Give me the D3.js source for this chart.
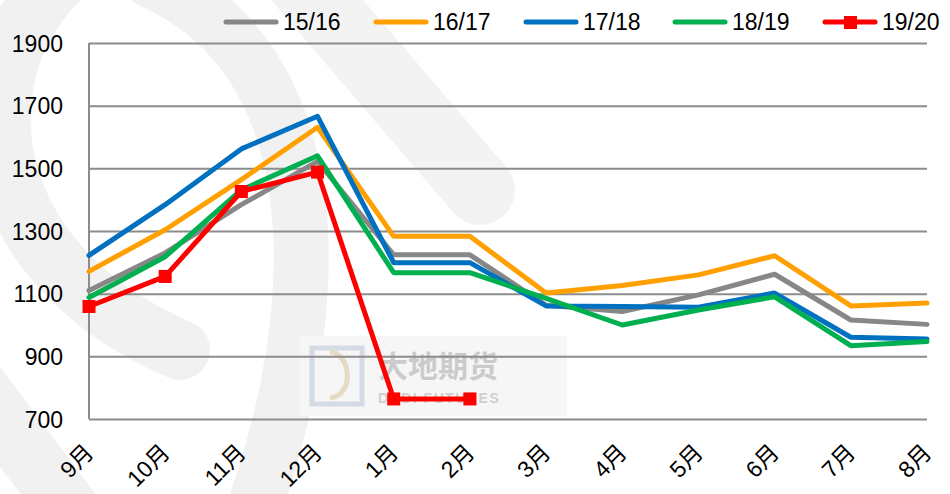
<!DOCTYPE html>
<html>
<head>
<meta charset="utf-8">
<script src="https://cdn.jsdelivr.net/npm/d3@7"></script>
<style>
  body { margin: 0; background: #fff; }
  svg text { font-family: "Liberation Sans", "Noto Sans CJK SC", sans-serif; }
</style>
</head>
<body>
<div id="canvas"></div>
<script>
const months = ['9月', '10月', '11月', '12月', '1月', '2月', '3月', '4月', '5月', '6月', '7月', '8月'];
const seasons = ['15/16', '16/17', '17/18', '18/19', '19/20'];
const s1516 = [1110, 1230, 1384, 1522, 1224, 1224, 1063, 1043, 1096, 1162, 1016, 1002];
const s1617 = [1171, 1304, 1464, 1631, 1283, 1283, 1102, 1126, 1160, 1221, 1061, 1070];
const s1718 = [1222, 1384, 1562, 1666, 1199, 1199, 1061, 1059, 1057, 1102, 961, 955];
const s1819 = [1088, 1218, 1431, 1540, 1167, 1167, 1085, 1000, 1048, 1090, 934, 947];
const s1920 = [1059, 1155, 1426, 1488, 764, 764, null, null, null, null, null, null];
const yTicks = [700, 900, 1100, 1300, 1500, 1700, 1900];
const colors = ['#878787', '#FFA000', '#0070C0', '#00B050', '#FF0000'];

const width = 950;
const height = 494;
const margin = { top: 43, left: 89, bottom: 75, right: 23 };
const iwidth = width - margin.left - margin.right;
const iheight = height - margin.top - margin.bottom;

const svg = d3.select('#canvas').append('svg')
  .attr('width', width)
  .attr('height', height);

// faint watermark in the background
const wm = svg.append('g').attr('fill', 'none').attr('stroke', '#f1f1f1').attr('stroke-linecap', 'round');
wm.append('path').attr('d', 'M 70 -30 C -40 60, -30 260, 180 350').attr('stroke-width', 60);
wm.append('path').attr('d', 'M 150 -20 C 330 60, 330 300, 250 520').attr('stroke-width', 55);
wm.append('path').attr('d', 'M 300 -20 L 480 190').attr('stroke-width', 70).attr('stroke', '#f3f3f3');
wm.append('path').attr('d', 'M -20 390 L 70 510').attr('stroke-width', 60);
svg.append('rect').attr('x', 300).attr('y', 336).attr('width', 267).attr('height', 80).attr('fill', '#f6f6f6');
const logo = svg.append('g').attr('opacity', 0.55);
logo.append('path').attr('d', 'M 312 348 L 362 348 L 362 404 L 312 404 Z').attr('fill', 'none').attr('stroke', '#b9c6d6').attr('stroke-width', 5);
logo.append('path').attr('d', 'M 330 352 C 350 352, 356 395, 330 398').attr('fill', 'none').attr('stroke', '#d8c49a').attr('stroke-width', 5);
logo.append('text').attr('x', 378).attr('y', 377).attr('font-size', 30).attr('font-weight', 'bold').attr('fill', '#a9a9a9')
  .style('font-family', '"Noto Sans CJK SC", sans-serif').text('大地期货');
logo.append('text').attr('x', 378).attr('y', 403).attr('font-size', 14).attr('font-weight', 'bold').attr('fill', '#b0b0b0')
  .attr('letter-spacing', 1.5).text('DADI FUTURES');

const g = svg.append('g').attr('transform', `translate(${margin.left},${margin.top})`);

const x = d3.scalePoint().domain(months).range([0, iwidth]);
const y = d3.scaleLinear().domain([700, 1900]).range([iheight, 0]);

// grid
g.append('g')
  .call(d3.axisLeft(y).tickValues(yTicks).tickSize(-iwidth).tickFormat(''))
  .call((a) => a.select('.domain').remove())
  .call((a) => a.selectAll('line').attr('stroke', '#8c8c8c').attr('stroke-width', 2));

g.append('line').attr('x1', 0).attr('x2', 0).attr('y1', 0).attr('y2', iheight)
  .attr('stroke', '#8c8c8c').attr('stroke-width', 2);

// y labels
g.append('g')
  .call(d3.axisLeft(y).tickValues(yTicks).tickSize(0).tickPadding(26).tickFormat(d3.format('d')))
  .call((a) => a.select('.domain').remove())
  .call((a) => a.selectAll('text').attr('font-size', 23).attr('fill', '#000').attr('dy', '0.35em').style('font-family', '"Liberation Sans", sans-serif'));

// x labels
g.append('g').selectAll('text').data(months).enter().append('text')
  .attr('text-anchor', 'end')
  .attr('font-size', 23)
  .attr('fill', '#000')
  .attr('transform', (d) => `translate(${x(d) + 6},${iheight + 35}) rotate(-45)`)
  .text((d) => d);

const series = [s1516, s1617, s1718, s1819, s1920];
const line = d3.line()
  .defined((d) => d != null)
  .x((d, i) => x(months[i]))
  .y((d) => y(d));

series.forEach((s, k) => {
  g.append('path')
    .datum(s)
    .attr('fill', 'none')
    .attr('stroke', colors[k])
    .attr('stroke-width', 5)
    .attr('stroke-linejoin', 'round')
    .attr('stroke-linecap', 'round')
    .attr('d', line);
});

g.selectAll('.marker').data(s1920.map((v, i) => ({ v, m: months[i] })).filter((d) => d.v != null))
  .enter().append('rect')
  .attr('class', 'marker')
  .attr('x', (d) => x(d.m) - 6.5)
  .attr('y', (d) => y(d.v) - 6.5)
  .attr('width', 13)
  .attr('height', 13)
  .attr('fill', colors[4]);

// legend
const legendX = [224, 374, 524, 673, 823];
const legend = svg.append('g');
seasons.forEach((s, k) => {
  const lg = legend.append('g').attr('transform', `translate(${legendX[k]},22)`);
  lg.append('line').attr('x1', 2).attr('x2', 52).attr('y1', 0).attr('y2', 0)
    .attr('stroke', colors[k]).attr('stroke-width', 5).attr('stroke-linecap', 'round');
  if (k === 4) {
    lg.append('rect').attr('x', 21).attr('y', -6).attr('width', 13).attr('height', 13).attr('fill', colors[k]);
  }
  lg.append('text').attr('x', 59).attr('y', 0).attr('dy', '0.35em')
    .attr('font-size', 23).attr('fill', '#000').text(s);
});
</script>
</body>
</html>
